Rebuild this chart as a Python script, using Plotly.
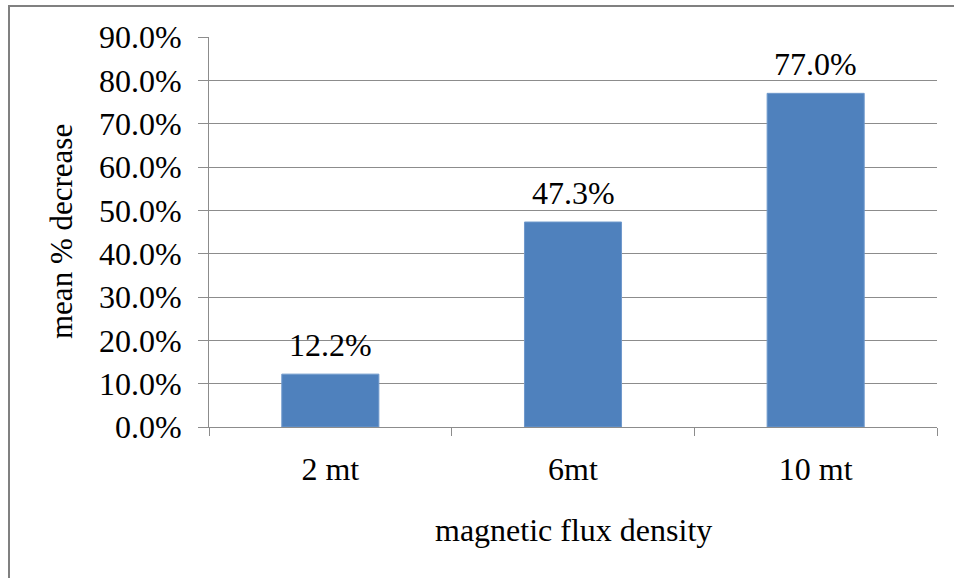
import plotly.graph_objects as go

categories = ["2 mt", "6mt", "10 mt"]
values = [0.122, 0.473, 0.770]
y_ticks = [0.0, 0.1, 0.2, 0.3, 0.4, 0.5, 0.6, 0.7, 0.8, 0.9]
x_title = "magnetic flux density"
y_title = "mean % decrease"

FONT = "Liberation Serif, Times New Roman, serif"
GRID = "#8c8c8c"

W, H = 954, 578
L, T = 209, 37
PW, PH = 728, 390

fig = go.Figure()
fig.add_trace(go.Bar(
    x=categories, y=values,
    marker=dict(color="#4f81bd", line=dict(color="#6f99cc", width=1)),
    width=0.4,
    hoverinfo="skip",
))

for c, v in zip(categories, values):
    fig.add_annotation(x=c, y=v, text=f"{v*100:.1f}%", showarrow=False,
                       yanchor="bottom", yshift=9,
                       font=dict(family=FONT, size=32, color="#000000"))

fig.add_annotation(xref="paper", yref="paper", x=(61 - L) / PW, y=(427 - 232) / PH,
                   text=y_title, textangle=-90, showarrow=False,
                   xanchor="center", yanchor="middle",
                   font=dict(family=FONT, size=31, color="#000000"))
fig.add_annotation(xref="paper", yref="paper", x=0.5, y=(427 - 530) / PH,
                   text=x_title, showarrow=False, xanchor="center", yanchor="middle",
                   font=dict(family=FONT, size=32, color="#000000"))

# outer chart border (its right and bottom edges fall outside the picture)
fig.add_shape(type="rect", xref="paper", yref="paper",
              x0=(9 - L) / PW, x1=(990 - L) / PW,
              y0=(427 - 620) / PH, y1=(427 - 6) / PH,
              line=dict(color="#808080", width=2), fillcolor="rgba(0,0,0,0)",
              layer="below")

fig.update_layout(
    width=W, height=H,
    margin=dict(l=L, r=W - L - PW, t=T, b=H - T - PH, pad=0),
    paper_bgcolor="white", plot_bgcolor="white",
    showlegend=False,
    font=dict(family=FONT, size=32, color="#000000"),
    bargap=0.6,
)
fig.update_xaxes(
    type="category",
    showgrid=False,
    showline=True, linecolor=GRID, linewidth=1,
    ticks="outside", ticklen=8, tickcolor=GRID, tickwidth=1,
    tickson="boundaries",
    ticklabelstandoff=14,
    tickfont=dict(family=FONT, size=32, color="#000000"),
)
fig.update_yaxes(
    range=[0, 0.9],
    tickvals=y_ticks,
    tickformat=".1%",
    showgrid=True, gridcolor=GRID, gridwidth=1,
    showline=True, linecolor=GRID, linewidth=1,
    ticks="outside", ticklen=10, tickcolor=GRID, tickwidth=1,
    ticklabelstandoff=10,
    zeroline=False,
    tickfont=dict(family=FONT, size=32, color="#000000"),
)

fig.write_html(
    "out.html",
    config={"displayModeBar": False},
    post_script="document.body.style.margin='0px';document.body.style.overflow='hidden';",
)
